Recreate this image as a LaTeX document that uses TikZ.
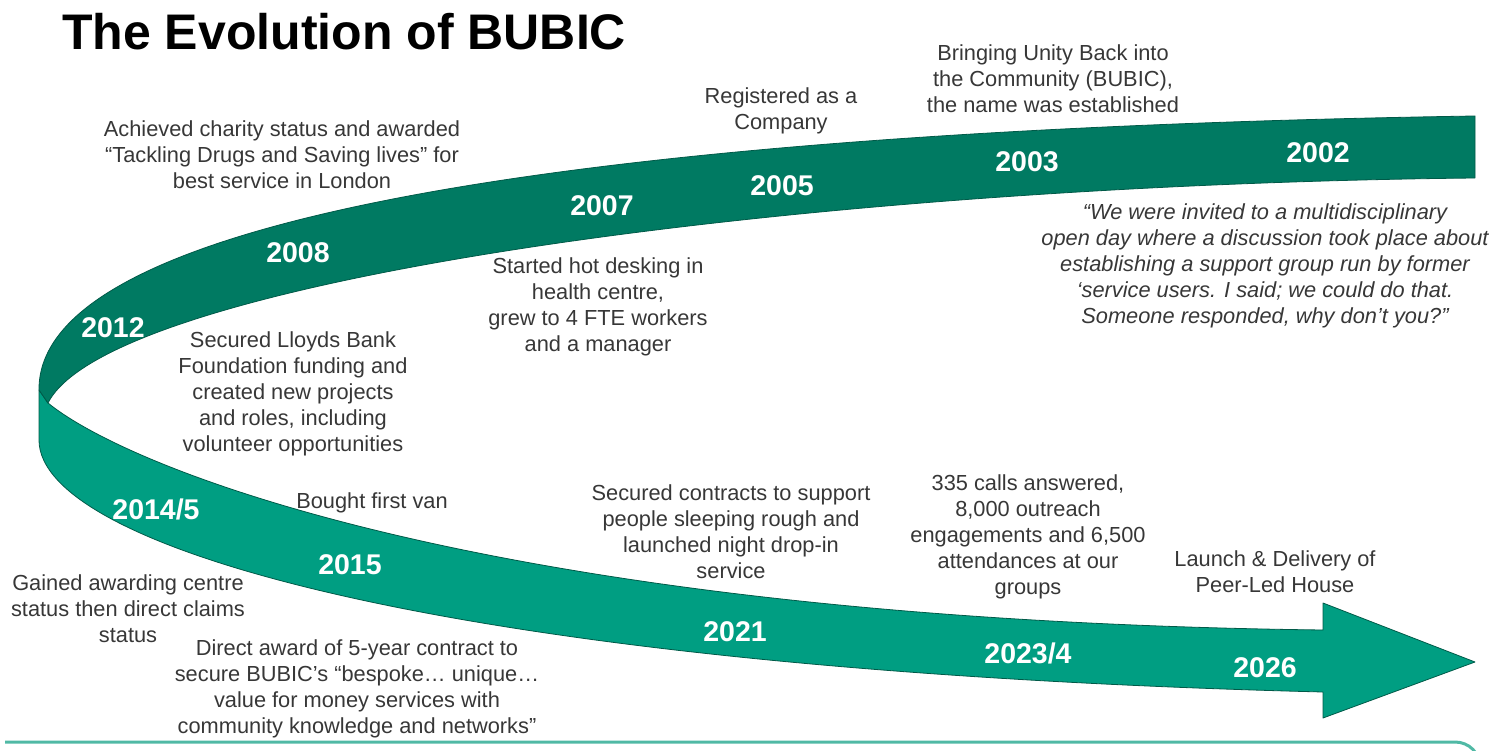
\documentclass[tikz,border=0pt]{standalone}
\usepackage{fontspec}
\setmainfont{Liberation Sans}
\definecolor{darkband}{RGB}{0,122,98}
\definecolor{lightband}{RGB}{0,158,130}
\definecolor{bandedge}{RGB}{0,90,72}
\definecolor{txt}{RGB}{55,55,55}
\definecolor{lineteal}{RGB}{80,185,165}
\begin{document}
\begin{tikzpicture}[x=1pt,y=-1pt,
  desc/.style={align=center,text=txt,inner sep=0pt,font=\fontsize{21.8}{26}\selectfont},
  quote/.style={desc,font=\fontsize{21.8}{26}\selectfont\itshape},
  year/.style={text=white,inner sep=0pt,font=\fontsize{28.5}{30}\selectfont\bfseries},
  title/.style={anchor=base west,inner sep=0pt,font=\fontsize{50}{55}\selectfont\bfseries,text=black}]
\useasboundingbox (0,0) rectangle (1507,751);
% light band with arrow head
\filldraw[fill=lightband,draw=bandedge,line width=0.8pt,line join=round]
  (39,390) -- (39,440) .. controls (39,548) and (450,670) .. (1323,692)
  -- (1323,718) -- (1475,662) -- (1323,603) -- (1323,630)
  .. controls (500,620) and (130,470) .. (48,403) -- cycle;
% dark band
\filldraw[fill=darkband,draw=bandedge,line width=0.8pt,line join=round]
  (39,390) .. controls (37,172) and (900,125) .. (1475,116) -- (1475,178)
  .. controls (800,185) and (110,280) .. (48,403) -- cycle;
% bottom line
\coordinate (l0) at (5,742);
\coordinate (l1) at (1455,742);
\coordinate (l2) at (1480,767);
\draw[lineteal,line width=3pt] (l0) -- (l1) .. controls (1469,742) and (1480,753) .. (l2);
% title
\node[title] (ttl) at (62,50) {The Evolution of BUBIC};
% years
\node[year] (y2002) at (1318,153) {2002};
\node[year] (y2003) at (1027,162) {2003};
\node[year] (y2005) at (782,186) {2005};
\node[year] (y2007) at (602,206) {2007};
\node[year] (y2008) at (298,253) {2008};
\node[year] (y2012) at (113,328) {2012};
\node[year] (y2014) at (156,509) {2014/5};
\node[year] (y2015) at (350,565) {2015};
\node[year] (y2021) at (735,632) {2021};
\node[year] (y2023) at (1028,653) {2023/4};
\node[year] (y2026) at (1265,668) {2026};
% descriptions
\node[desc] (d1) at (282,155) {Achieved charity status and awarded\\“Tackling Drugs and Saving lives” for\\best service in London};
\node[desc] (d2) at (781,111) {Registered as a\\Company};
\node[desc] (d3) at (1053,79) {Bringing Unity Back into\\the Community (BUBIC),\\the name was established};
\node[quote] (d4) at (1265,266) {“We were invited to a multidisciplinary\\open day where a discussion took place about\\establishing a support group run by former\\‘service users. I said; we could do that.\\Someone responded, why don’t you?”};
\node[desc] (d5) at (598,307) {Started hot desking in\\health centre,\\grew to 4 FTE workers\\and a manager};
\node[desc] (d6) at (293,394) {Secured Lloyds Bank\\Foundation funding and\\created new projects\\and roles, including\\volunteer opportunities};
\node[desc] (d7) at (372,503) {Bought first van};
\node[desc] (d8) at (128,609) {Gained awarding centre\\status then direct claims\\status};
\node[desc] (d9) at (357,689) {Direct award of 5-year contract to\\secure BUBIC’s “bespoke… unique…\\value for money services with\\community knowledge and networks”};
\node[desc] (d10) at (731,532) {Secured contracts to support\\people sleeping rough and\\launched night drop-in\\service};
\node[desc] (d11) at (1028,537) {335 calls answered,\\8,000 outreach\\engagements and 6,500\\attendances at our\\groups};
\node[desc] (d12) at (1275,572) {Launch \& Delivery of\\Peer-Led House};
\end{tikzpicture}
\end{document}
